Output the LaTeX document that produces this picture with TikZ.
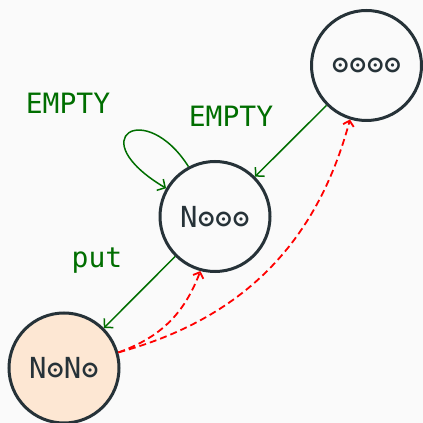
\documentclass[tikz,border=0pt]{standalone}
\usepackage{fontspec}
\setmonofont{DejaVu Sans Mono}
\usetikzlibrary{arrows.meta,bending}
\definecolor{bgc}{RGB}{250,250,250}
\definecolor{ink}{RGB}{38,50,56}
\definecolor{grn}{RGB}{0,110,0}
\definecolor{peach}{RGB}{253,231,211}
\tikzset{
  state/.style={circle,draw=ink,line width=3pt,minimum size=110pt,inner sep=0pt,
    font=\ttfamily\fontsize{29}{32}\selectfont,text=ink},
  lbl/.style={font=\ttfamily\fontsize{28}{31}\selectfont,text=grn},
  tr/.style={draw=grn,line width=1.5pt,-{Straight Barb[length=6pt,width=13pt]}},
  back/.style={draw=red,line width=1.8pt,dash pattern=on 7pt off 4pt,
    -{Straight Barb[length=5pt,width=11pt]}}
}
\begin{document}
\begin{tikzpicture}[x=1pt,y=1pt]
\fill[bgc] (0,0) rectangle (423,423);
\useasboundingbox (0,0) rectangle (423,423);
\node[state] (A) at (366.5,357.5) {ʘʘʘʘ};
\node[state] (B) at (215,206.5) {Nʘʘʘ};
\node[state,fill=peach] (C) at (64,55) {NʘNʘ};
\node[lbl] (l1) at (68,320) {EMPTY};
\node[lbl] (l2) at (231,307) {EMPTY};
\node[lbl] (l3) at (97,162) {put};
\draw[tr] (A) -- (B);
\draw[tr] (B) -- (C);
\draw[tr] (B.118) .. controls (145,325) and (80,285) .. (B.150);
\draw[back] (C.16) to[bend right=25] (B.-105);
\draw[back] (C.16) to[bend right=30] (A.-107);
\end{tikzpicture}
\end{document}
